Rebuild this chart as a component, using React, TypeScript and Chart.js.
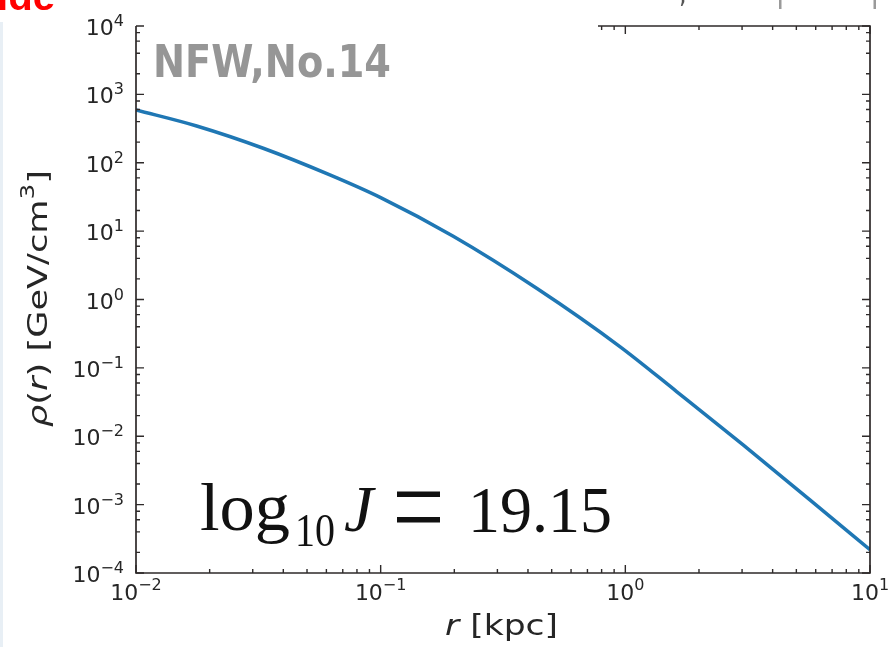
import React, { useEffect, useRef } from 'react';
import { Chart, registerables } from 'chart.js';

Chart.register(...registerables);

// ---- data ----
const R_KPC = [0.01, 0.0177, 0.0331, 0.062, 0.1, 0.198, 0.434, 0.95, 1.62, 3.03, 5.68, 10];
const RHO = [592, 345, 163, 66.4, 30.9, 8.41, 1.46, 0.205, 0.0451, 0.00748, 0.00117, 0.000219];

const X_MAJOR = [0.01, 0.1, 1, 10];
const X_EXP = ['−2', '−1', '0', '1'];
const Y_MAJOR = [1e-4, 1e-3, 1e-2, 1e-1, 1, 10, 100, 1000, 10000];
const Y_EXP = ['−4', '−3', '−2', '−1', '0', '1', '2', '3', '4'];
const X_SUBS = [2, 3, 4, 5, 6, 7, 8, 9];
const Y_SUBS = [2, 4, 6, 8];

const PROFILE_LABEL = 'NFW,No.14';
const J_VALUE = '19.15';

// ---- layout / style constants ----
const W = 890;
const H = 647;
const TOP_SPINE_START = 598;
const AXIS_COLOR = '#2e2a2a';
const TEXT_COLOR = '#262626';
const SANS = '"DejaVu Sans", "Noto Sans", sans-serif';
const SERIF = '"Liberation Serif", "DejaVu Serif", serif';

type Run = { text: string; font: string; dy?: number };

function drawRuns(
  ctx: CanvasRenderingContext2D,
  runs: Run[],
  x: number,
  y: number,
  align: 'left' | 'center' | 'right',
  fitWidth?: number
) {
  const widths: number[] = [];
  let total = 0;
  for (const r of runs) {
    ctx.font = r.font;
    const w = ctx.measureText(r.text).width;
    widths.push(w);
    total += w;
  }
  const s = fitWidth ? fitWidth / total : 1;
  const start = align === 'left' ? x : align === 'center' ? x - (total * s) / 2 : x - total * s;
  ctx.save();
  ctx.translate(start, y);
  ctx.scale(s, 1);
  ctx.textAlign = 'left';
  ctx.textBaseline = 'alphabetic';
  let cx = 0;
  runs.forEach((r, i) => {
    ctx.font = r.font;
    ctx.fillText(r.text, cx, r.dy || 0);
    cx += widths[i];
  });
  ctx.restore();
}

function minorValues(majors: number[], subs: number[]) {
  const out: number[] = [];
  for (let i = 0; i < majors.length - 1; i++) {
    for (const k of subs) out.push(majors[i] * k);
  }
  return out;
}

const decorPlugin = {
  id: 'decor',
  afterDraw(chart: any) {
    const { ctx, chartArea: a, scales } = chart;
    const xs = scales.x;
    const ys = scales.y;
    ctx.save();

    // faint strip on the far left edge
    ctx.strokeStyle = '#e8eff5';
    ctx.lineWidth = 3;
    ctx.beginPath();
    ctx.moveTo(1.5, 22);
    ctx.lineTo(1.5, H);
    ctx.stroke();

    // frame
    ctx.strokeStyle = AXIS_COLOR;
    ctx.lineWidth = 1.7;
    ctx.beginPath();
    ctx.moveTo(a.left, a.top);
    ctx.lineTo(a.left, a.bottom);
    ctx.lineTo(a.right, a.bottom);
    ctx.lineTo(a.right, a.top);
    ctx.lineTo(TOP_SPINE_START, a.top);
    ctx.stroke();

    // ticks (inward)
    ctx.lineWidth = 1.4;
    const xTicks = [
      ...X_MAJOR.map((v) => ({ v, len: 8 })),
      ...minorValues(X_MAJOR, X_SUBS).map((v) => ({ v, len: 4 })),
    ];
    ctx.beginPath();
    for (const t of xTicks) {
      const px = xs.getPixelForValue(t.v);
      ctx.moveTo(px, a.bottom);
      ctx.lineTo(px, a.bottom - t.len);
      if (px >= TOP_SPINE_START) {
        ctx.moveTo(px, a.top);
        ctx.lineTo(px, a.top + t.len);
      }
    }
    const yTicks = [
      ...Y_MAJOR.map((v) => ({ v, len: 8 })),
      ...minorValues(Y_MAJOR, Y_SUBS).map((v) => ({ v, len: 4 })),
    ];
    for (const t of yTicks) {
      const py = ys.getPixelForValue(t.v);
      ctx.moveTo(a.left, py);
      ctx.lineTo(a.left + t.len, py);
      ctx.moveTo(a.right, py);
      ctx.lineTo(a.right - t.len, py);
    }
    ctx.stroke();

    // tick labels
    ctx.fillStyle = TEXT_COLOR;
    const baseFont = `22px ${SANS}`;
    const expFont = `16px ${SANS}`;
    X_MAJOR.forEach((v, i) => {
      const px = xs.getPixelForValue(v);
      drawRuns(
        ctx,
        [
          { text: '10', font: baseFont },
          { text: X_EXP[i], font: expFont, dy: -10 },
        ],
        px,
        a.bottom + 27,
        'center'
      );
    });
    Y_MAJOR.forEach((v, i) => {
      const py = ys.getPixelForValue(v);
      drawRuns(
        ctx,
        [
          { text: '10', font: baseFont },
          { text: Y_EXP[i], font: expFont, dy: -9 },
        ],
        a.left - 12,
        py + 9,
        'right'
      );
    });

    // x axis label
    drawRuns(
      ctx,
      [
        { text: 'r', font: `italic 29px ${SANS}` },
        { text: ' [kpc]', font: `29px ${SANS}` },
      ],
      445,
      635,
      'left',
      113
    );

    // y axis label (rotated)
    ctx.save();
    ctx.translate(47, 427);
    ctx.rotate(-Math.PI / 2);
    drawRuns(
      ctx,
      [
        { text: 'ρ', font: `italic 27px ${SANS}` },
        { text: '(', font: `27px ${SANS}` },
        { text: 'r', font: `italic 27px ${SANS}` },
        { text: ') [GeV/cm', font: `27px ${SANS}` },
        { text: '3', font: `19px ${SANS}`, dy: -13 },
        { text: ']', font: `27px ${SANS}` },
      ],
      0,
      0,
      'left',
      257
    );
    ctx.restore();

    // profile label
    ctx.fillStyle = '#969696';
    drawRuns(ctx, [{ text: PROFILE_LABEL, font: `bold 44px ${SANS}` }], 153, 77, 'left', 238);

    // log10 J annotation
    ctx.fillStyle = '#111111';
    drawRuns(ctx, [{ text: 'log', font: `68px ${SERIF}` }], 200, 530, 'left', 90);
    drawRuns(ctx, [{ text: '10', font: `46px ${SERIF}` }], 295, 546, 'left', 40);
    drawRuns(ctx, [{ text: 'J', font: `italic 66px ${SERIF}` }], 344, 531, 'left');
    ctx.fillRect(397, 491.5, 43, 5.5);
    ctx.fillRect(397, 517, 43, 5.5);
    drawRuns(ctx, [{ text: J_VALUE, font: `66px ${SERIF}` }], 468, 532, 'left', 144);

    // cropped remnants at the very top
    ctx.fillStyle = '#ff0000';
    drawRuns(ctx, [{ text: 'ide', font: `bold 40px "Liberation Sans", sans-serif` }], -3, 10, 'left', 58);
    ctx.fillStyle = '#555555';
    drawRuns(ctx, [{ text: ',', font: `24px ${SANS}` }], 679, 3, 'left');
    ctx.fillStyle = '#9a9a9a';
    ctx.fillRect(779, 0, 2.5, 9);
    ctx.fillRect(873.5, 0, 2.5, 9);

    ctx.restore();
  },
};

export default function App() {
  const canvasRef = useRef<HTMLCanvasElement | null>(null);

  useEffect(() => {
    const canvas = canvasRef.current;
    if (!canvas) return;
    const chart = new Chart(canvas, {
      type: 'line',
      data: {
        datasets: [
          {
            data: R_KPC.map((r, i) => ({ x: r, y: RHO[i] })),
            borderColor: '#1f77b4',
            borderWidth: 3.5,
            pointRadius: 0,
            cubicInterpolationMode: 'monotone',
            fill: false,
          },
        ],
      },
      options: {
        animation: false,
        responsive: false,
        maintainAspectRatio: false,
        layout: { padding: { left: 136, right: 20, top: 26, bottom: 74 } },
        plugins: { legend: { display: false }, tooltip: { enabled: false } },
        scales: {
          x: { type: 'logarithmic', min: 0.01, max: 10, display: false },
          y: { type: 'logarithmic', min: 1e-4, max: 1e4, display: false },
        },
      },
      plugins: [decorPlugin],
    } as any);
    return () => chart.destroy();
  }, []);

  return (
    <div style={{ position: 'absolute', left: 0, top: 0, width: W, height: H, background: '#ffffff' }}>
      <canvas ref={canvasRef} width={W} height={H} style={{ display: 'block', width: W, height: H }} />
    </div>
  );
}
